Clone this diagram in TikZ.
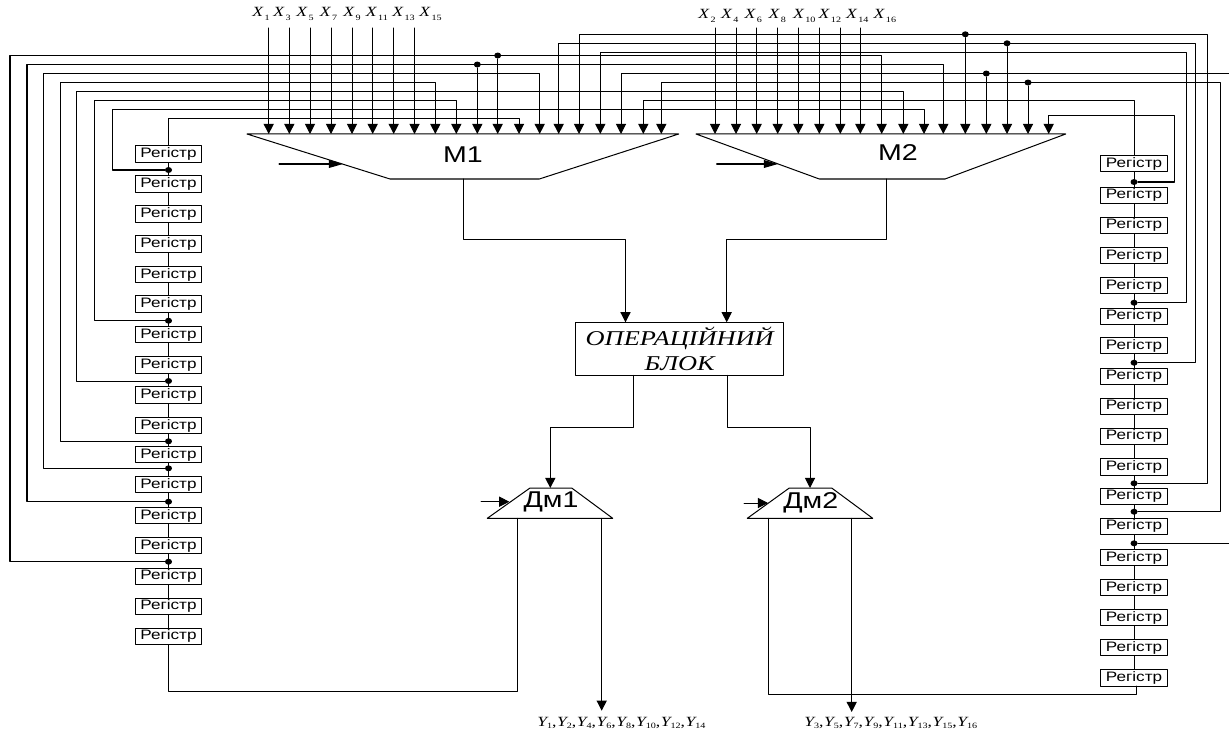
\documentclass[tikz,border=0pt]{standalone}
\usepackage{fontspec}
\usepackage{tikz}
\usetikzlibrary{arrows.meta,shapes.geometric}
\setmainfont{Liberation Sans}
\newfontfamily\blockfont[FakeStretch=1.25]{Liberation Sans}
\newfontfamily\signalfont[FakeStretch=1.25]{Liberation Serif}
\newcommand{\signame}[2]{{\signalfont\itshape #1}\hspace{.9pt}\raisebox{-.5ex}{\fontsize{4.6}{5}\signalfont #2}}
\newcommand{\outname}[2]{{\signalfont\itshape #1}\raisebox{-.4ex}{\fontsize{4.6}{5}\signalfont #2}}
\tikzset{
  wire/.style={line width=.57pt},
  busarrow/.style={wire, -{Triangle[length=5.8pt,width=5.8pt]}},
  selarrow/.style={wire, -{Triangle[length=8pt,width=4.4pt]}},
  regbox/.style={draw, line width=.57pt, fill=white, minimum width=1.34cm,
    minimum height=.325cm, inner sep=0pt, font=\blockfont\fontsize{7.8}{8}\selectfont},
  tapdot/.style={ellipse, fill=black, inner sep=0pt, minimum width=4pt, minimum height=3.4pt},
  muxname/.style={inner sep=0pt, font=\blockfont\fontsize{13}{14}\selectfont},
  signame/.style={inner sep=0pt, anchor=west, font=\signalfont\fontsize{8}{9}\selectfont},
}
\begin{document}
\begin{tikzpicture}[x=.02cm, y=-.02cm, line cap=round, line join=round]
  \useasboundingbox (0,0) rectangle (1229,733);

  % Selector and distributor bodies.
  \draw[wire] (247,134) -- (678.7,134) -- (539.3,179) -- (390,179) -- cycle;
  \draw[wire] (696,134) -- (1065.7,134) -- (945,179) -- (819.3,179) -- cycle;
  \draw[wire] (530,488) -- (571.7,488) -- (612.7,518.3) -- (487.3,518.3) -- cycle;
  \draw[wire] (789.3,488) -- (831.7,488) -- (872.7,518.3) -- (747.3,518.3) -- cycle;
  \node[muxname] (mone) at (463,155) {М1};
  \node[muxname] (mtwo) at (898,153) {М2};
  \node[muxname] (dmone) at (551,502) {Дм1};
  \node[muxname] (dmtwo) at (810.7,503) {Дм2};

  \node[draw, line width=.57pt, minimum width=4.17cm, minimum height=1.06cm, inner sep=0pt,
    align=center, font=\signalfont\itshape\fontsize{12}{14.2}\selectfont]
    (opblock) at (679.7,348.8) {ОПЕРАЦІЙНИЙ\\БЛОК};

  % Register chains.
  \foreach \regn/\regy in {1/154,2/184,3/214,4/244,5/274.5,6/304,7/334.7,8/365,9/395,
    10/425.5,11/454.7,12/484.7,13/515.7,14/545.8,15/576.3,16/606.3,17/636.3}{%
    \node[regbox] (lreg\regn) at (168.5,\regy) {Регістр};
  }
  \foreach \regn/\regy in {1/163.5,2/195.3,3/225.3,4/255.7,5/285.7,6/316.3,7/345.5,8/376.3,
    9/406.3,10/436.3,11/467,12/496.3,13/526.3,14/557.8,15/587.8,16/617.5,17/647.5,18/678}{%
    \node[regbox] (rreg\regn) at (1134,\regy) {Регістр};
  }
  \foreach \regn [remember=\regn as \regp (initially 1)] in {2,...,17}{%
    \draw[wire] (lreg\regp) -- (lreg\regn);
  }
  \foreach \regn [remember=\regn as \regp (initially 1)] in {2,...,18}{%
    \draw[wire] (rreg\regp) -- (rreg\regn);
  }

  % Direct inputs.
  \foreach \sign/\inx/\labx in {1/268.7/252,3/289.3/273,5/310/296,7/331/319.5,9/352/343,
    11/372.7/365.5,13/393.7/392,15/414.5/419}{%
    \node[signame] (x\sign) at (\labx,14) {\signame{X}{\sign}};
    \coordinate (xtop\sign) at (\inx,28);
    \coordinate (xin\sign) at (\inx,134);
    \draw[busarrow] (xtop\sign) -- (xin\sign);
  }
  \foreach \sign/\inx/\labx in {2/715/698,4/736/720.7,6/756.7/744.3,8/777.7/768.3,10/798.3/792.7,
    12/819.3/818.3,14/840.3/845.7,16/860.3/873.3}{%
    \node[signame] (x\sign) at (\labx,16) {\signame{X}{\sign}};
    \coordinate (xtop\sign) at (\inx,28);
    \coordinate (xin\sign) at (\inx,134);
    \draw[busarrow] (xtop\sign) -- (xin\sign);
  }

  % Left tap points run round the top of the selectors.
  \foreach \tapn/\tapy/\tapx/\busy/\inx in {1/170/112/109.5/924,2/320.7/94.5/100.5/456.3,
    3/381/76.5/91.5/903.3,4/441.3/60/82.5/435.3,5/468.3/43/73.5/539.7,
    6/501.7/27/64.5/943.3,7/561.7/10/55.5/881.7}{%
    \node[tapdot] (ltap\tapn) at (168.5,\tapy) {};
    \coordinate (lin\tapn) at (\inx,134);
    \draw[busarrow] (ltap\tapn) -- (\tapx,\tapy) -- (\tapx,\busy) -- (\inx,\busy) -- (lin\tapn);
  }
  \coordinate (linfirst) at (519,134);
  \draw[busarrow] (lreg1) -- (168.5,118.5) -- (519,118.5) -- (linfirst);

  % Right tap points.
  \foreach \tapn/\tapy/\tapx/\busy/\inx in {2/302.7/1186.7/52.3/600.3,3/362.7/1195/43.3/558.7,
    4/483.3/1207.7/34.3/579,5/511.7/1220/82.5/661.3,1/182/1174/115.7/1048.7}{%
    \node[tapdot] (rtap\tapn) at (1134,\tapy) {};
    \coordinate (rin\tapn) at (\inx,134);
    \draw[busarrow] (rtap\tapn) -- (\tapx,\tapy) -- (\tapx,\busy) -- (\inx,\busy) -- (rin\tapn);
  }
  \coordinate (rinfirst) at (643.3,134);
  \draw[busarrow] (rreg1) -- (1134,100.5) -- (643.3,100.5) -- (rinfirst);

  % These two leave the drawing at its right edge.
  \node[tapdot] (rtap6) at (1134,543.3) {};
  \coordinate (redgeone) at (1229,543.3);
  \draw[wire] (rtap6) -- (redgeone);
  \coordinate (redgetwo) at (1229,73.5);
  \coordinate (rinedge) at (621,134);
  \draw[busarrow] (redgetwo) -- (621,73.5) -- (rinedge);

  % Branches dropped from the buses.
  \foreach \brn/\brx/\bry in {1/477.3/64.5,2/497.7/55.5,3/965.3/34.3,4/986.3/73.5,
    5/1007/43.3,6/1028/82.5}{%
    \node[tapdot] (bus\brn) at (\brx,\bry) {};
    \coordinate (busin\brn) at (\brx,134);
    \draw[busarrow] (bus\brn) -- (busin\brn);
  }

  % Selector outputs into the block, block outputs into the distributors.
  \coordinate (monein) at (625.5,322.3);
  \coordinate (mtwoin) at (726.7,322.3);
  \coordinate (dmonein) at (550.3,488);
  \coordinate (dmtwoin) at (810,488);
  \draw[busarrow] (463.5,179) -- (463.5,239) -- (625.5,239) -- (monein);
  \draw[busarrow] (886.7,179) -- (886.7,239) -- (726.7,239) -- (mtwoin);
  \draw[busarrow] (633.7,375.3) -- (633.7,427.7) -- (550.3,427.7) -- (dmonein);
  \draw[busarrow] (727.7,375.3) -- (727.7,427.7) -- (810,427.7) -- (dmtwoin);

  % Select lines.
  \coordinate (selmone) at (343,164);
  \coordinate (selmtwo) at (778,164);
  \coordinate (seldone) at (509.3,501.7);
  \coordinate (seldtwo) at (768,503);
  \draw[selarrow] (279,164) -- (selmone);
  \draw[selarrow] (716.7,164) -- (selmtwo);
  \draw[busarrow] (481,501.7) -- (seldone);
  \draw[busarrow] (744,503) -- (seldtwo);

  % Distributor outputs.
  \coordinate (youtone) at (601.7,710.7);
  \coordinate (youttwo) at (851.7,712);
  \coordinate (lregout) at (168.5,644.5);
  \coordinate (rregout) at (1136.7,686.2);
  \draw[busarrow] (601.7,518.3) -- (youtone);
  \draw[busarrow] (851.7,518.3) -- (youttwo);
  \draw[wire] (517.7,518.3) -- (517.7,691.7) -- (168.5,691.7) -- (lregout);
  \draw[wire] (768.3,518.3) -- (768.3,694.3) -- (1136.7,694.3) -- (rregout);

  \node[signame] (yone) at (537,723) {\outname{Y}{1},\hspace{.3pt}\outname{Y}{2},\hspace{.3pt}\outname{Y}{4},\hspace{.3pt}\outname{Y}{6},\hspace{.3pt}\outname{Y}{8},\hspace{.3pt}\outname{Y}{10},\hspace{.3pt}\outname{Y}{12},\hspace{.3pt}\outname{Y}{14}};
  \node[signame] (ytwo) at (804,723) {\outname{Y}{3},\hspace{.3pt}\outname{Y}{5},\hspace{.3pt}\outname{Y}{7},\hspace{.3pt}\outname{Y}{9},\hspace{.3pt}\outname{Y}{11},\hspace{.3pt}\outname{Y}{13},\hspace{.3pt}\outname{Y}{15},\hspace{.3pt}\outname{Y}{16}};
\end{tikzpicture}
\end{document}
